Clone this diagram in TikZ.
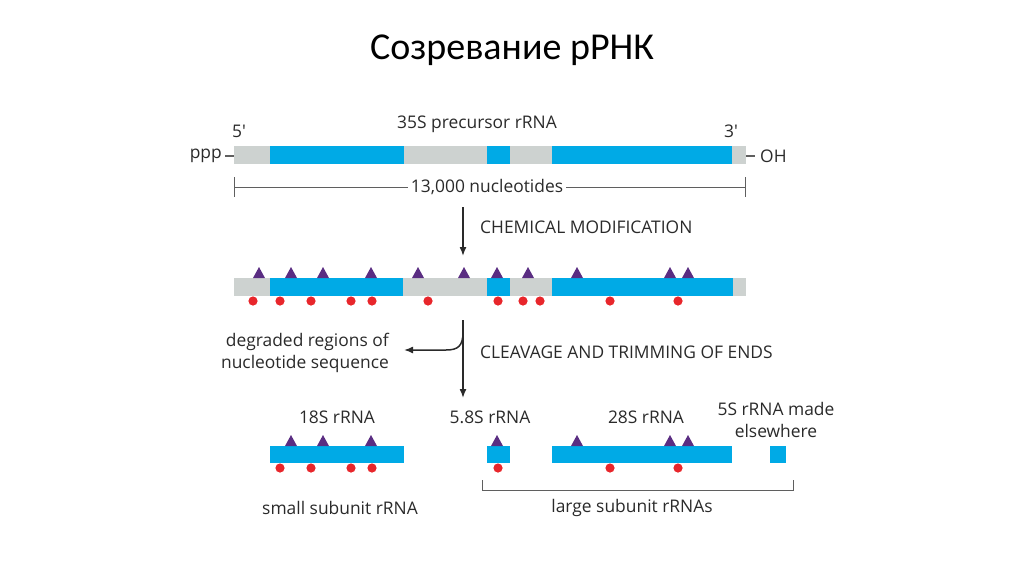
\documentclass[tikz,border=0pt]{standalone}
\usepackage{fontspec}
\setmainfont{Open Sans}
\newfontfamily\titlefont{Carlito}
\usetikzlibrary{arrows.meta}
\definecolor{rgray}{HTML}{CDD2D0}
\definecolor{rblue}{HTML}{00AAE6}
\definecolor{rpurple}{HTML}{5A2D82}
\definecolor{rred}{HTML}{E8262B}
\definecolor{rtext}{HTML}{2A2A2A}
\begin{document}
\begin{tikzpicture}[x=1pt,y=-1pt,
  lbl/.style={text=rtext,font=\fontsize{17.4}{21.5}\selectfont,inner sep=0pt},
  grayseg/.style={fill=rgray,draw=none},
  blueseg/.style={fill=rblue,draw=none},
  tri/.style={fill=rpurple,draw=none},
  dot/.style={fill=rred,draw=none},
  arr/.style={draw=rtext,line width=1.5pt,-{Latex[length=9pt,width=7pt]}},
  thin/.style={draw=rtext!75,line width=0.7pt}]
\useasboundingbox (0,0) rectangle (1024,574);
% title
\node[inner sep=0pt,text=black] (title) at (512,50) {\titlefont\fontsize{38}{42}\selectfont Созревание рРНК};

% ---- bar 1
\fill[grayseg] (234,146) rectangle (746,164);
\foreach \a/\b in {270/404,487/510,552/732} \fill[blueseg] (\a,146) rectangle (\b,164);
\node[lbl] (t35) at (477,124) {35S precursor rRNA};
\node[lbl] (p5) at (239,131) {5′};
\node[lbl] (p3) at (731,131) {3′};
\node[lbl,anchor=east] (ppp) at (222,156) {ppp};
\node[lbl,anchor=west] (oh) at (760,156) {OH};
\draw[thin,line width=1.2pt] (ppp.east)++(3,0) -- (234,156);
\draw[thin,line width=1.2pt] (746,156) -- ++(9,0);
% dimension
\node[lbl,fill=white,inner xsep=3pt] (n13) at (487,187) {13,000 nucleotides};
\coordinate (dl) at (234,187);
\coordinate (dr) at (745,187);
\draw[thin] (dl) -- (n13.west);
\draw[thin] (n13.east) -- (dr);
\draw[thin] (234,177) -- (234,197);
\draw[thin] (745,177) -- (745,197);

% arrow 1
\coordinate (a1s) at (463,207);
\coordinate (a1e) at (463,256);
\draw[arr] (a1s) -- (a1e);
\node[lbl,anchor=west] (chem) at (480,227) {CHEMICAL MODIFICATION};

% ---- bar 2
\fill[grayseg] (234,278) rectangle (746,296);
\foreach \a/\b in {270/403,487/510,552/733} \fill[blueseg] (\a,278) rectangle (\b,296);
\foreach \x in {259,291,323,371,418,464,497,528,577,670,688}
  \fill[tri] (\x-6,278) -- (\x,267) -- (\x+6,278) -- cycle;
\foreach \x in {253,280,311,351,372,428,498,523,540,610,678}
  \fill[dot] (\x,301) circle (4.6);

% arrow 2 with branch
\coordinate (a2s) at (463,320);
\coordinate (a2e) at (463,398);
\coordinate (a2b) at (463,332);
\coordinate (a2t) at (404,350);
\draw[arr] (a2s) -- (a2e);
\draw[arr] (a2b) .. controls (463,346) and (458,350) .. (446,350) -- (a2t);
\node[lbl,anchor=east,align=right] (deg) at (389,353) {degraded regions of\\nucleotide sequence};
\node[lbl,anchor=west] (cleav) at (480,352) {CLEAVAGE AND TRIMMING OF ENDS};

% ---- bar 3
\foreach \a/\b in {270/404,487/510,552/732,770/786} \fill[blueseg] (\a,446) rectangle (\b,463);
\foreach \x in {291,323,371,497,577,670,688}
  \fill[tri] (\x-6,446) -- (\x,435) -- (\x+6,446) -- cycle;
\foreach \x in {280,311,351,372,498,610,678}
  \fill[dot] (\x,468) circle (4.6);
\node[lbl] (r18) at (337,417) {18S rRNA};
\node[lbl] (r58) at (490,417) {5.8S rRNA};
\node[lbl] (r28) at (646,417) {28S rRNA};
\node[lbl,align=center] (r5) at (776,420) {5S rRNA made\\elsewhere};
% bracket
\coordinate (bl) at (482,480);
\coordinate (br) at (793,480);
\draw[thin] (bl) -- (482,490) -- (793,490) -- (br);
\node[lbl] (small) at (340,508) {small subunit rRNA};
\node[lbl] (large) at (632,508) {large subunit rRNAs};
\end{tikzpicture}
\end{document}
